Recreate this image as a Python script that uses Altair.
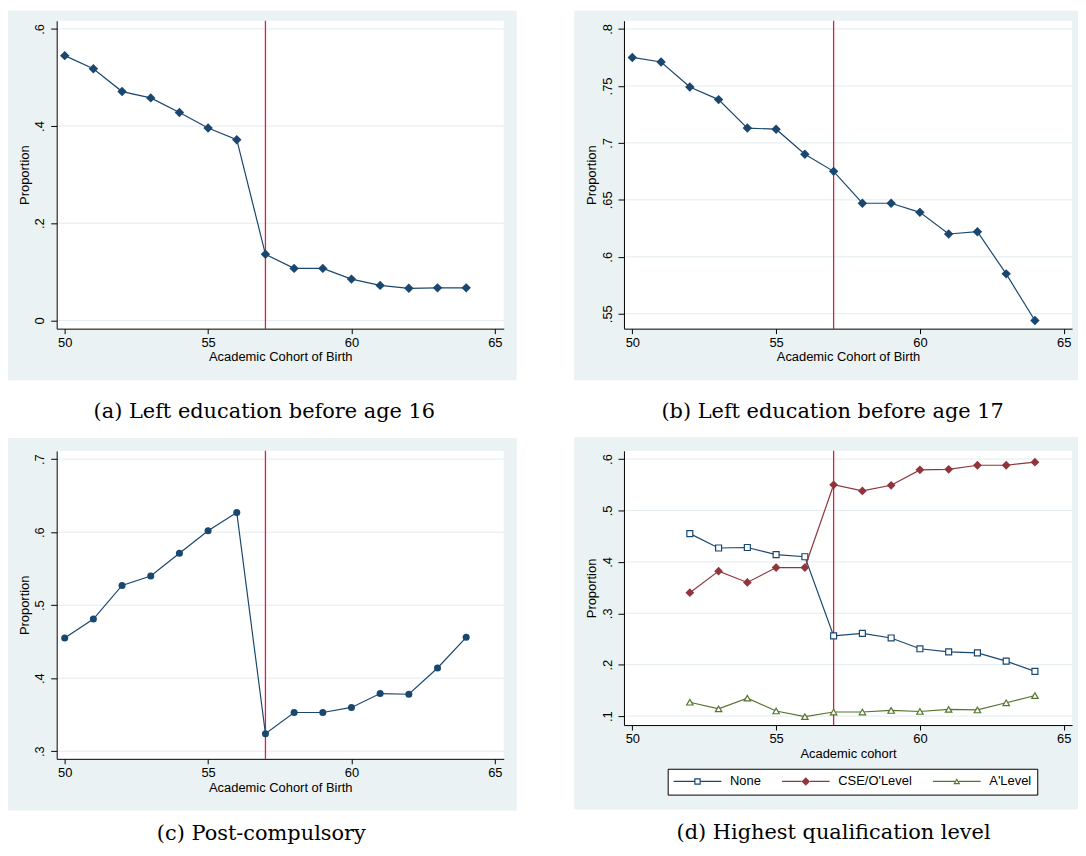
import altair as alt
import pandas as pd

# ---------------- data ----------------
cohort = list(range(50, 65))
left_before_16 = [0.545, 0.518, 0.471, 0.458, 0.428, 0.396, 0.372, 0.136, 0.107, 0.107,
                  0.085, 0.072, 0.066, 0.067, 0.067]
left_before_17 = [0.775, 0.771, 0.749, 0.738, 0.713, 0.712, 0.690, 0.675, 0.647, 0.647,
                  0.639, 0.620, 0.622, 0.585, 0.544]
post_compulsory = [0.455, 0.481, 0.527, 0.540, 0.571, 0.602, 0.627, 0.324, 0.353, 0.353,
                   0.360, 0.379, 0.378, 0.414, 0.456]

cohort_qual = list(range(52, 65))
qual_none = [0.455, 0.427, 0.428, 0.414, 0.410, 0.256, 0.261, 0.252, 0.231, 0.225,
             0.223, 0.207, 0.187]
qual_cse = [0.340, 0.382, 0.360, 0.389, 0.389, 0.550, 0.538, 0.549, 0.579, 0.580,
            0.588, 0.588, 0.594]
qual_alevel = [0.127, 0.114, 0.135, 0.110, 0.099, 0.108, 0.108, 0.111, 0.109, 0.113,
               0.112, 0.126, 0.140]
qual_series = ["None", "CSE/O'Level", "A'Level"]

reform_cohort = [57]
x_ticks = [50, 55, 60, 65]
y_ticks_a = [0, 0.2, 0.4, 0.6]
y_ticks_b = [0.55, 0.6, 0.65, 0.7, 0.75, 0.8]
y_ticks_c = [0.3, 0.4, 0.5, 0.6, 0.7]
y_ticks_d = [0.1, 0.2, 0.3, 0.4, 0.5, 0.6]

captions = ["(a) Left education before age 16", "(b) Left education before age 17",
            "(c) Post-compulsory", "(d) Highest qualification level"]
x_title_birth = "Academic Cohort of Birth"
x_title_cohort = "Academic cohort"
y_title = "Proportion"

# ---------------- styles ----------------
NAVY = "#1a476f"
MAROON = "#90353b"
GREEN = "#55752f"
RED = "#dc1f45"
BG = "#eaf2f3"
GRID = "#e3ebee"
SANS = "Liberation Sans"
SERIF = "DejaVu Serif"

ONE = pd.DataFrame({"k": [0]})

# legend symbols: line stub + marker, drawn as custom paths
P_NONE = ("M-1.3,-0.12H2.85V0.12H-1.3Z M4.15,-0.12H8.3V0.12H4.15Z "
          "M2.85,-0.65H4.15V0.65H2.85Z M3.09,-0.41V0.41H3.91V-0.41Z")
P_CSE = ("M-1.3,-0.12H2.65V0.12H-1.3Z M4.35,-0.12H8.3V0.12H4.35Z "
         "M2.65,0L3.5,-0.85L4.35,0L3.5,0.85Z")
P_ALEV = ("M-1.3,-0.12H3.12V0.12H-1.3Z M3.88,-0.12H8.3V0.12H3.88Z "
          "M3.5,-0.65L4.2,0.55H2.8Z M3.5,-0.17L3.22,0.31H3.78Z")


def build_panel(w, h, xdom, ydom, yticks, xtitle, caption, cap_x, cap_y, box,
                series_layers, spacer=None, legend_fn=None):
    left, right, top, bottom = box
    xs = alt.Scale(domain=xdom, nice=False, zero=False)
    ys = alt.Scale(domain=ydom, nice=False, zero=False)
    xaxis = alt.Axis(values=x_ticks, title=xtitle, grid=False, domainColor="black",
                     domainWidth=1, tickColor="black", tickSize=5, tickWidth=1,
                     labelFont=SANS, labelFontSize=13, labelColor="black",
                     labelPadding=3, labelFlush=False, labelOverlap=False,
                     titleFont=SANS, titleFontSize=13, titleFontWeight="normal",
                     titleColor="black", titleX=w / 2, titleY=32.5,
                     titleBaseline="alphabetic", titleAlign="center", zindex=1)
    yaxis = alt.Axis(values=yticks, title=y_title, grid=False, domainColor="black",
                     domainWidth=1, tickColor="black", tickSize=6, tickWidth=1,
                     labelFont=SANS, labelFontSize=13, labelColor="black",
                     labelAngle=270, labelAlign="center", labelBaseline="alphabetic",
                     labelPadding=7, labelFlush=False, labelOverlap=False,
                     labelExpr="datum.value == 0 ? '0' : substring(toString(datum.value), 1)",
                     titleFont=SANS, titleFontSize=13, titleFontWeight="normal",
                     titleColor="black", titleAngle=270, titleX=-28.5, titleY=h / 2,
                     titleBaseline="alphabetic", titleAlign="center", zindex=1)

    def X(f):
        return alt.X(f, type="quantitative", scale=xs, axis=xaxis)

    def Y(f):
        return alt.Y(f, type="quantitative", scale=ys, axis=yaxis)

    base1 = alt.Chart(ONE)
    layers = [
        base1.mark_rect(color=BG, strokeWidth=0).encode(
            x=alt.value(left), x2=alt.value(right), y=alt.value(top), y2=alt.value(bottom)),
        base1.mark_rect(color="white", strokeWidth=0).encode(
            x=alt.value(0), x2=alt.value(w), y=alt.value(0), y2=alt.value(h)),
        alt.Chart(pd.DataFrame({"tick": yticks})).mark_rule(color=GRID, strokeWidth=1).encode(
            y=Y("tick")),
        alt.Chart(pd.DataFrame({"cohort": reform_cohort})).mark_rule(
            color=RED, strokeWidth=1.3).encode(x=X("cohort")),
    ]
    for df, col, color, pt in series_layers:
        layers.append(alt.Chart(df).mark_line(color=color, strokeWidth=1.2).encode(
            x=X("cohort"), y=Y(col)))
        layers.append(alt.Chart(df).mark_point(**pt).encode(x=X("cohort"), y=Y(col)))
    if legend_fn is not None:
        layers.append(legend_fn(X, Y))
    layers.append(base1.mark_text(text=caption, font=SERIF, fontSize=21, color="black",
                                  align="center", baseline="alphabetic").encode(
        x=alt.value(cap_x), y=alt.value(cap_y)))
    if spacer is not None:
        layers.append(base1.mark_rect(opacity=0).encode(
            x=alt.value(0), x2=alt.value(1), y=alt.value(0), y2=alt.value(spacer)))
    return alt.layer(*layers).properties(width=w, height=h)


def diamond(color, size=90):
    return dict(shape="diamond", filled=True, color=color, size=size, opacity=1,
                strokeWidth=0)


df_a = pd.DataFrame({"cohort": cohort, "share": left_before_16})
df_b = pd.DataFrame({"cohort": cohort, "share": left_before_17})
df_c = pd.DataFrame({"cohort": cohort, "share": post_compulsory})
df_none = pd.DataFrame({"cohort": cohort_qual, "share": qual_none})
df_cse = pd.DataFrame({"cohort": cohort_qual, "share": qual_cse})
df_alev = pd.DataFrame({"cohort": cohort_qual, "share": qual_alevel})
df_long = pd.DataFrame({
    "cohort": cohort_qual * 3,
    "share": qual_none + qual_cse + qual_alevel,
    "series": [qual_series[0]] * len(cohort_qual) + [qual_series[1]] * len(cohort_qual)
              + [qual_series[2]] * len(cohort_qual),
})

LEG = alt.Legend(title=None, orient="none", legendX=44, legendY=320,
                 direction="horizontal", fillColor="white", strokeColor="black",
                 padding=6, symbolSize=100, symbolStrokeWidth=0, symbolOpacity=1,
                 symbolOffset=0, labelFont=SANS, labelFontSize=13, labelColor="black",
                 labelOffset=43.7, columnPadding=21)


def legend_carrier(X, Y):
    return alt.Chart(df_long).mark_point(filled=True, opacity=0, size=1).encode(
        x=X("cohort"), y=Y("share"),
        color=alt.Color("series:N", scale=alt.Scale(domain=qual_series,
                                                    range=[NAVY, MAROON, GREEN]),
                        legend=LEG),
        shape=alt.Shape("series:N", scale=alt.Scale(domain=qual_series,
                                                    range=[P_NONE, P_CSE, P_ALEV]),
                        legend=LEG),
    )


pa = build_panel(450, 310, [49.72, 65.31], [-0.017, 0.617], y_ticks_a, x_title_birth,
                 captions[0], 209, 400, (-49, 463, -10, 362),
                 [(df_a, "share", NAVY, diamond(NAVY))], spacer=419)
pb = build_panel(451, 310, [49.71, 65.29], [0.5369, 0.8073], y_ticks_b, x_title_birth,
                 captions[1], 210, 400, (-50, 457, -10, 362),
                 [(df_b, "share", NAVY, diamond(NAVY))], spacer=419)
pc = build_panel(450, 310, [49.72, 65.31], [0.2896, 0.7113], y_ticks_c, x_title_birth,
                 captions[2], 206, 392, (-49, 463, -13, 362),
                 [(df_c, "share", NAVY, dict(shape="circle", filled=True, color=NAVY,
                                             size=50, opacity=1, strokeWidth=0))])
pd_ = build_panel(451, 276, [49.71, 65.29], [0.0826, 0.616], y_ticks_d, x_title_cohort,
                  captions[3], 211, 391, (-50, 457, -14, 361),
                  [(df_none, "share", NAVY, dict(shape="square", fill="white", stroke=NAVY,
                                                 strokeWidth=1.2, size=36, opacity=1,
                                                 fillOpacity=1)),
                   (df_cse, "share", MAROON, diamond(MAROON, 78)),
                   (df_alev, "share", GREEN, dict(shape="triangle-up", fill="white",
                                                  stroke=GREEN, strokeWidth=1.2, size=42,
                                                  opacity=1, fillOpacity=1))],
                  legend_fn=legend_carrier)

row1 = alt.hconcat(pa, pb, spacing=58)
row2 = alt.hconcat(pc, pd_, spacing=58).resolve_scale(
    color="independent", shape="independent").resolve_legend(
    color="independent", shape="independent")
chart = alt.vconcat(row1, row2, spacing=0).resolve_scale(
    color="independent", shape="independent").resolve_legend(
    color="independent", shape="independent").properties(
    padding=0, background="white"
).configure_view(strokeWidth=0)

chart.save("out.html", embed_options={"renderer": "svg", "actions": False})
